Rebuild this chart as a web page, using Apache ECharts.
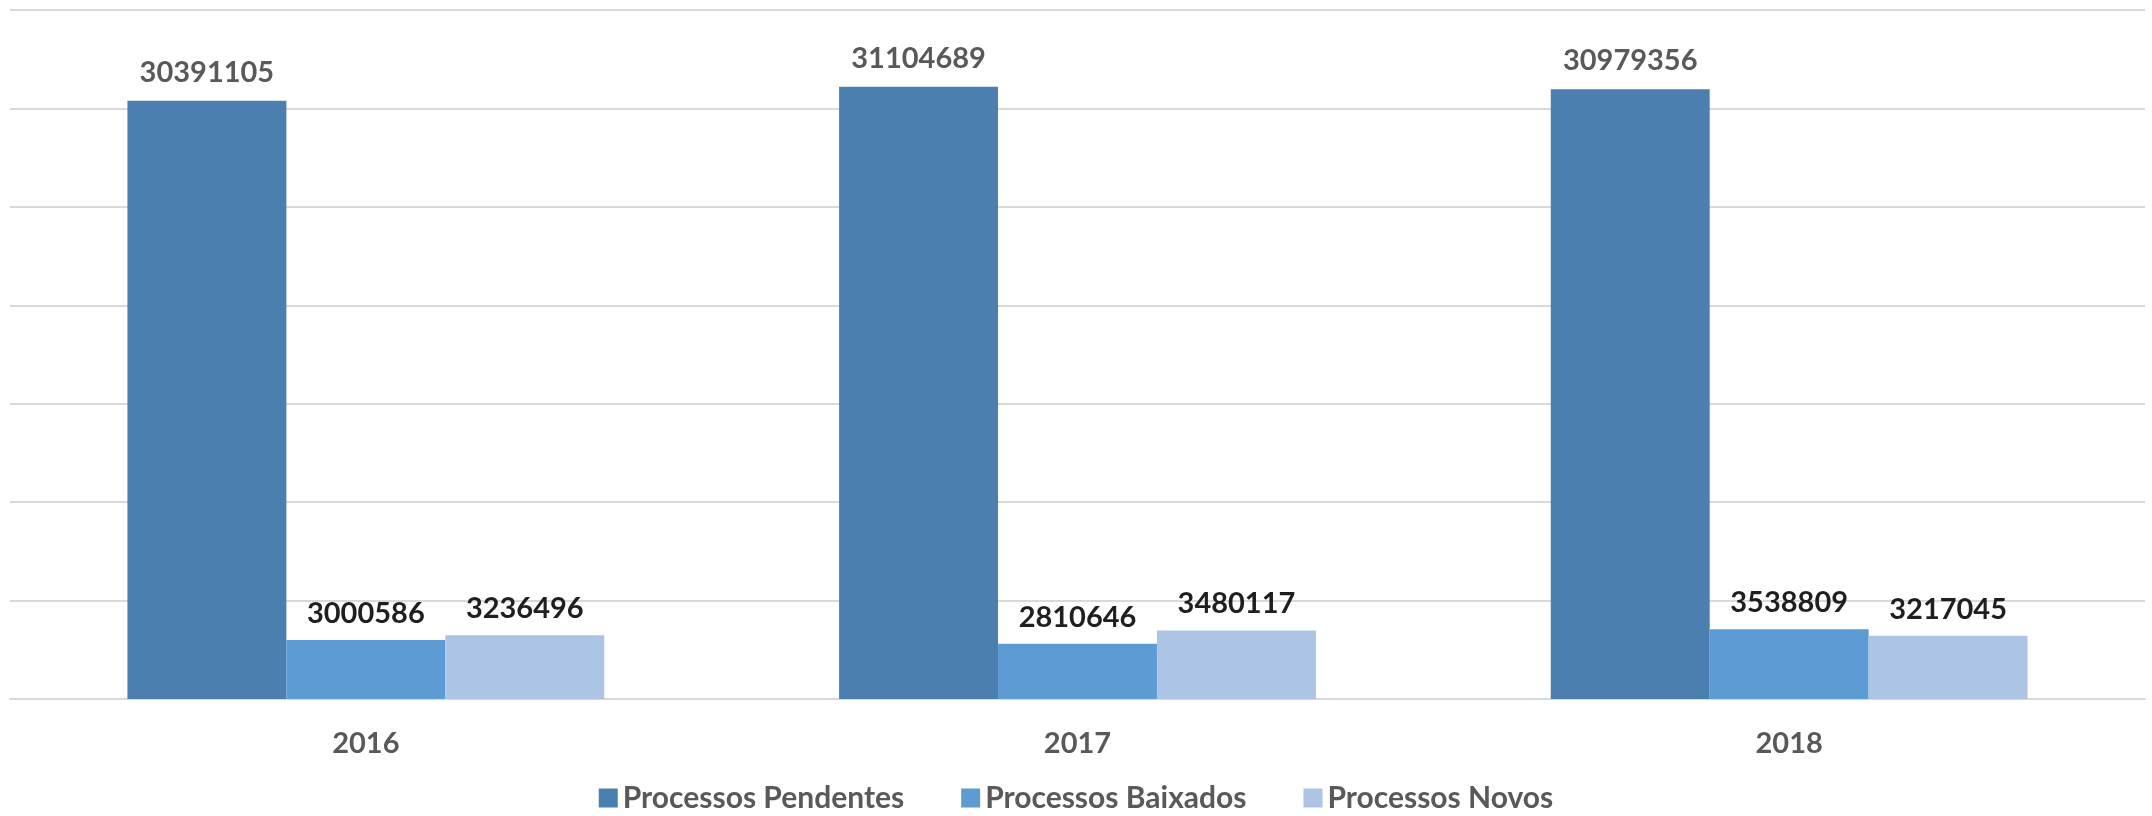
<!DOCTYPE html>
<html>
<head>
<meta charset="utf-8">
<script src="https://cdn.jsdelivr.net/npm/echarts@6/dist/echarts.min.js"></script>
<style>
  html, body { margin: 0; padding: 0; background: #fff; }
  #chart { width: 2152px; height: 816px; }
</style>
</head>
<body>
<div id="chart"></div>
<script>
  var anos = ['2016', '2017', '2018'];
  var pendentes = [30391105, 31104689, 30979356];
  var baixados = [3000586, 2810646, 3538809];
  var novos = [3236496, 3480117, 3217045];

  var fonte = 'Lato, "Liberation Sans", sans-serif';

  var myChart = echarts.init(document.getElementById('chart'));
  myChart.setOption({
    animation: false,
    color: ['#4a7fb0', '#5c9bd4', '#adc5e4'],
    grid: { left: 10, right: 7, top: 10, bottom: 117, containLabel: false },
    legend: {
      bottom: -2,
      left: 'center',
      icon: 'rect',
      itemWidth: 19,
      itemHeight: 19,
      itemGap: 57,
      textStyle: { fontFamily: fonte, fontSize: 30, fontWeight: 'bold', color: '#595959' },
      data: ['Processos Pendentes', 'Processos Baixados', 'Processos Novos']
    },
    xAxis: {
      type: 'category',
      data: anos,
      axisLine: { lineStyle: { color: '#d9d9d9', width: 2 } },
      axisTick: { show: false },
      axisLabel: { margin: 30, fontFamily: fonte, fontSize: 29, fontWeight: 'bold', color: '#595959' }
    },
    yAxis: {
      type: 'value',
      min: 0,
      max: 35000000,
      interval: 5000000,
      axisLabel: { show: false },
      axisLine: { show: false },
      axisTick: { show: false },
      splitLine: { lineStyle: { color: '#d9d9d9', width: 2 } }
    },
    series: [
      {
        name: 'Processos Pendentes',
        type: 'bar',
        data: pendentes,
        barGap: '0%',
        barCategoryGap: '33%',
        label: { show: true, position: 'top', distance: 14, fontFamily: fonte, fontSize: 29, fontWeight: 'bold', color: '#595959' }
      },
      {
        name: 'Processos Baixados',
        type: 'bar',
        data: baixados,
        label: { show: true, position: 'top', distance: 12, fontFamily: fonte, fontSize: 29, fontWeight: 'bold', color: '#1f1f1f' }
      },
      {
        name: 'Processos Novos',
        type: 'bar',
        data: novos,
        label: { show: true, position: 'top', distance: 12, fontFamily: fonte, fontSize: 29, fontWeight: 'bold', color: '#1f1f1f' }
      }
    ]
  });
</script>
</body>
</html>
